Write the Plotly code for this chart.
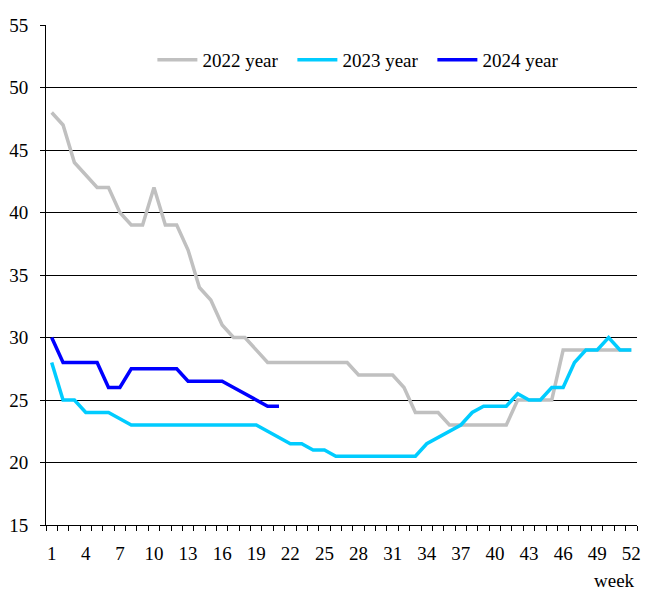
import plotly.graph_objects as go

# weekly values
weeks = list(range(1, 53))

y2022 = [48, 47, 44, 43, 42, 42, 40, 39, 39, 42, 39, 39, 37, 34, 33, 31, 30, 30,
         29, 28, 28, 28, 28, 28, 28, 28, 28, 27, 27, 27, 27, 26, 24, 24, 24,
         23, 23, 23, 23, 23, 23, 25, 25, 25, 25, 29, 29, 29, 29, 29, 29, 29]
y2023 = [28, 25, 25, 24, 24, 24, 23.5, 23, 23, 23, 23, 23, 23, 23, 23, 23, 23, 23, 23,
         22.5, 22, 21.5, 21.5, 21, 21, 20.5, 20.5, 20.5, 20.5, 20.5, 20.5, 20.5, 20.5,
         21.5, 22, 22.5, 23, 24, 24.5, 24.5, 24.5, 25.5, 25, 25, 26, 26, 28, 29, 29, 30, 29, 29]
y2024 = [30, 28, 28, 28, 28, 26, 26, 27.5, 27.5, 27.5, 27.5, 27.5, 26.5, 26.5, 26.5, 26.5,
         26, 25.5, 25, 24.5, 24.5]

series = [
    ("2022 year", y2022, "#C0C0C0"),
    ("2023 year", y2023, "#00CCFF"),
    ("2024 year", y2024, "#0000FF"),
]

x_ticks = list(range(1, 53, 3))

fig = go.Figure()
for name, vals, col in series:
    fig.add_trace(go.Scatter(
        x=weeks[:len(vals)], y=vals, mode="lines", name=name,
        line=dict(color=col, width=3.5)
    ))

font = dict(family="Times New Roman, Liberation Serif, serif", size=19, color="black")

fig.update_layout(
    width=659, height=616,
    margin=dict(l=38, r=30, t=17, b=99, autoexpand=False),
    plot_bgcolor="white", paper_bgcolor="white",
    font=font,
    showlegend=True,
    legend=dict(orientation="h", x=0.18, xanchor="left", y=0.93, yanchor="middle",
                bgcolor="rgba(0,0,0,0)", font=font, itemwidth=40,
                entrywidth=85, entrywidthmode="pixels"),
    xaxis=dict(
        range=[0.5, 52.5], tickvals=x_ticks, ticks="", showgrid=False,
        showline=True, linecolor="black", linewidth=1, zeroline=False,
        ticklabelstandoff=11, tickfont=font,
        minor=dict(tick0=0.5, dtick=1, ticks="outside", ticklen=5,
                   tickcolor="black", showgrid=False),
    ),
    yaxis=dict(
        range=[15, 55], dtick=5, showgrid=True, gridcolor="black", gridwidth=1,
        showline=True, linecolor="black", linewidth=1, zeroline=False,
        ticks="outside", ticklen=5, tickcolor="black", ticklabelstandoff=8,
        tickfont=font,
    ),
    annotations=[dict(text="week", xref="paper", yref="paper", x=1.0, y=-0.11,
                      xanchor="right", yanchor="middle", showarrow=False, font=font)],
)

fig.write_html("out.html")
